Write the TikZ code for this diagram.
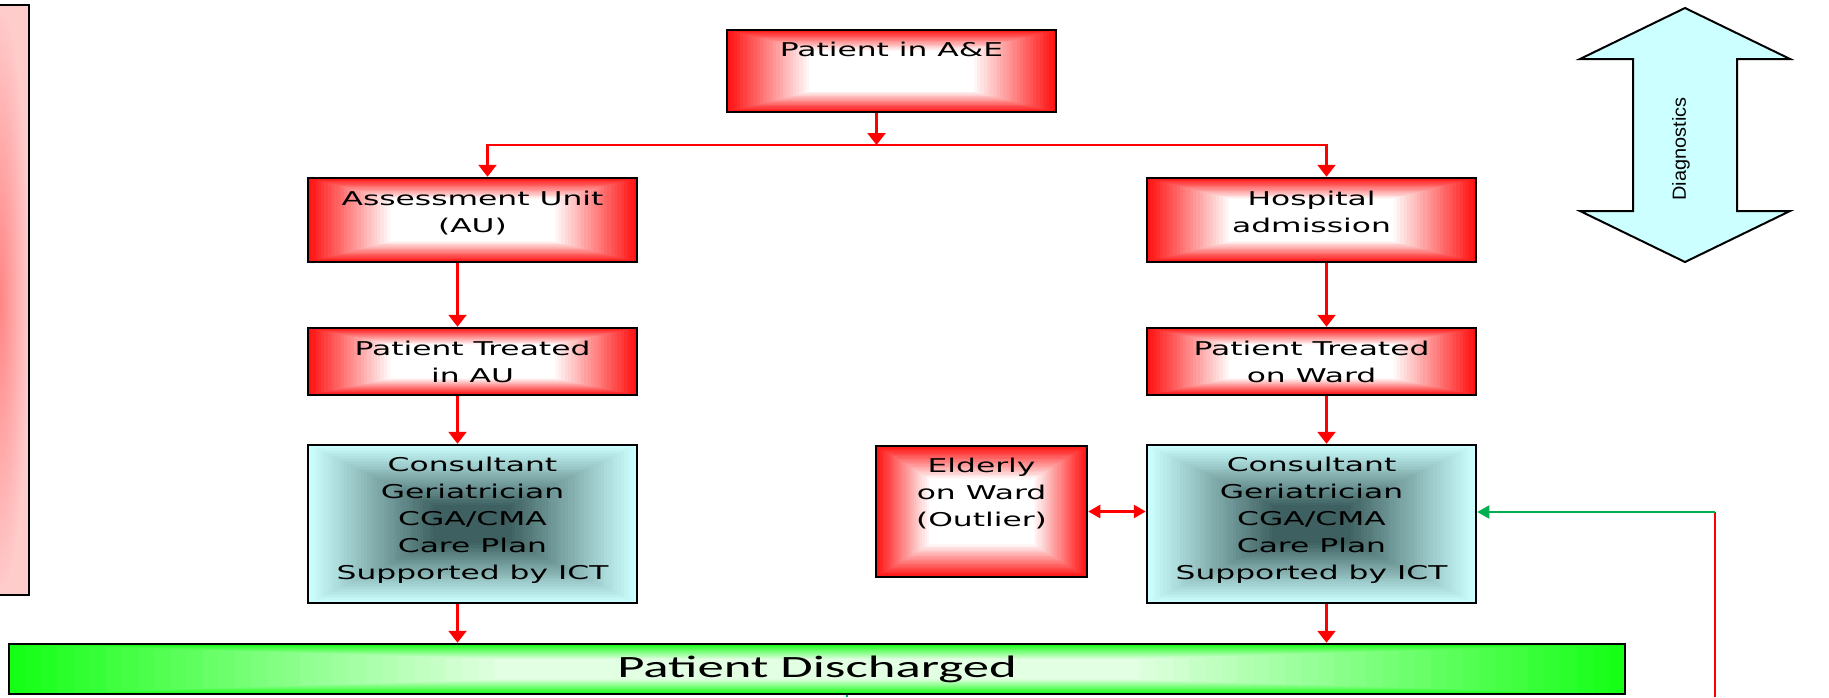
\documentclass[tikz,border=0pt]{standalone}
\usepackage{fontspec}
\setmainfont{DejaVu Sans}
\newfontfamily\boxfont[FakeStretch=1.65]{DejaVu Sans}
\newfontfamily\barfont[FakeStretch=1.7]{Carlito}
\newfontfamily\diagfont[FakeStretch=1.05]{Liberation Sans}
\usetikzlibrary{arrows.meta,calc,positioning}
\definecolor{boxR}{RGB}{255,18,18}
\definecolor{boxC}{RGB}{204,255,255}
\definecolor{boxD}{RGB}{62,96,96}
\definecolor{barG}{RGB}{22,255,22}
\definecolor{lineG}{RGB}{0,176,80}
\definecolor{sideP}{RGB}{255,204,204}
\tikzset{
  glow/.style n args={3}{path picture={
    \foreach \k in {0,...,49}{
      \pgfmathtruncatemacro\mix{min(100,\k*100/#3)}
      \fill[#2!\mix!#1] ($(path picture bounding box.south west)!\k/100!(path picture bounding box.north east)$) rectangle ($(path picture bounding box.north east)!\k/100!(path picture bounding box.south west)$);
    }}}
}

\begin{document}
\begin{tikzpicture}[x=1pt,y=1pt,>={Triangle[length=12pt,width=18pt]},
  redbox/.style={draw=black,line width=2.5pt,glow={boxR}{white}{25},minimum width=329pt,inner sep=0pt},
  cgabox/.style={draw=black,line width=2.5pt,glow={boxC}{boxD}{38},minimum width=329pt,minimum height=158pt,inner sep=0pt},
  txt/.style={font=\boxfont\fontsize{19}{27}\selectfont,align=center,inner sep=0pt,text=black},
  redline/.style={draw=red,line width=2.5pt},
  greenline/.style={draw=lineG,line width=2pt,>={Triangle[length=12pt,width=13pt]}}]
\useasboundingbox (0,0) rectangle (1829,-697);
% side panel, cut by the page edge
\node[draw=black,line width=2.5pt,shade,shading=radial,inner color=red!48,outer color=sideP,minimum width=58pt,minimum height=590pt] (side) at (0,-300) {};
% main flow
\node[redbox,minimum height=82pt] (ae) at (891.5,-71) {};
\node[txt,below=13pt of ae.north] (aet) {Patient in A\&E};
\node[redbox,minimum height=84pt] (au) at (472.5,-220) {};
\node[txt,below=14pt of au.north] (aut) {Assessment Unit\\(AU)};
\node[redbox,minimum height=84pt] (adm) at (1311.5,-220) {};
\node[txt,below=14pt of adm.north] (admt) {Hospital\\admission};
\node[redbox,minimum height=67pt] (tau) at (472.5,-361.5) {};
\node[txt,below=14pt of tau.north] (taut) {Patient Treated\\in AU};
\node[redbox,minimum height=67pt] (tward) at (1311.5,-361.5) {};
\node[txt,below=14pt of tward.north] (twardt) {Patient Treated\\on Ward};
\node[cgabox] (cgl) at (472.5,-524) {};
\node[txt,below=13pt of cgl.north] (cglt) {Consultant\\Geriatrician\\CGA/CMA\\Care Plan\\Supported by ICT};
\node[cgabox] (cgr) at (1311.5,-524) {};
\node[txt,below=13pt of cgr.north] (cgrt) {Consultant\\Geriatrician\\CGA/CMA\\Care Plan\\Supported by ICT};
\node[redbox,minimum width=211pt,minimum height=131pt] (eld) at (981.5,-511.5) {};
\node[txt,below=13pt of eld.north] (eldt) {Elderly\\on Ward\\(Outlier)};
\node[draw=black,line width=2.5pt,glow={barG}{white!88!barG}{30},minimum width=1616pt,minimum height=50pt,inner sep=0pt,font=\barfont\fontsize{31}{31}\selectfont] (dis) at (817,-669) {Patient Discharged};
% diagnostics arrow
\draw[black,line width=2pt,fill=boxC] (1685,-8) -- (1790,-59) -- (1737,-59) -- (1737,-211) -- (1790,-211) -- (1685,-262) -- (1580,-211) -- (1633,-211) -- (1633,-59) -- (1580,-59) -- cycle;
\node[font=\diagfont\fontsize{19}{19}\selectfont,rotate=90,inner sep=0pt] (diag) at (1681,-149) {Diagnostics};
% connectors
\coordinate (split) at (876.5,-145);
\coordinate (cgldrop) at ([xshift=-15pt]cgl.south);
\coordinate (cgrdrop) at ([xshift=15pt]cgr.south);
\coordinate (loop) at (1715,-512);
\coordinate (loopend) at (1715,-697);
\coordinate (tick) at (847,-697);
\draw[redline,->] ([xshift=-15pt]ae.south) -- (split);
\draw[redline,->] (split) -| ([xshift=15pt]au.north);
\draw[redline,->] (split) -| ([xshift=15pt]adm.north);
\draw[redline,->] ([xshift=-15pt]au.south) -- ([xshift=-15pt]tau.north);
\draw[redline,->] ([xshift=-15pt]tau.south) -- ([xshift=-15pt]cgl.north);
\draw[redline,->] (cgldrop) -- (cgldrop |- dis.north);
\draw[redline,->] ([xshift=15pt]adm.south) -- ([xshift=15pt]tward.north);
\draw[redline,->] ([xshift=15pt]tward.south) -- ([xshift=15pt]cgr.north);
\draw[redline,->] (cgrdrop) -- (cgrdrop |- dis.north);
\draw[redline,<->,>={Triangle[length=12pt,width=13pt]}] (eld.east) -- (eld.east -| cgr.west);
\draw[red,line width=2pt] (loopend) -- (loop);
\draw[greenline,->] (loop) -- (loop -| cgr.east);
\draw[greenline] (dis.south -| tick) -- (tick);
\end{tikzpicture}
\end{document}
